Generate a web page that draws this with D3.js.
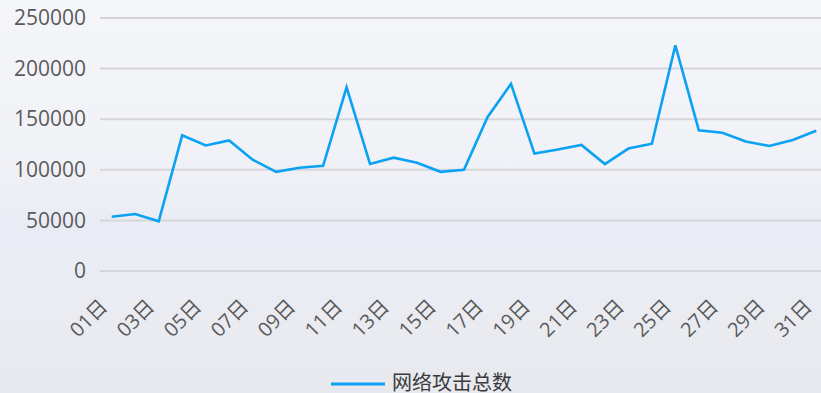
<!DOCTYPE html>
<html>
<head>
<meta charset="utf-8">
<script src="https://cdn.jsdelivr.net/npm/d3@7/dist/d3.min.js"></script>
<style>
  html, body { margin: 0; padding: 0; background: #f1f2f7; }
  svg { display: block; }
</style>
</head>
<body>
<svg id="chart" width="821" height="393"></svg>
<script>
// Daily attack counts for one month
const days = ["01日","02日","03日","04日","05日","06日","07日","08日","09日","10日",
              "11日","12日","13日","14日","15日","16日","17日","18日","19日","20日",
              "21日","22日","23日","24日","25日","26日","27日","28日","29日","30日","31日"];
const attacks = [53600, 56300, 49100, 134000, 124000, 129000, 110000, 98000, 102000, 104000,
                 181500, 105700, 112000, 107000, 98000, 100000, 152000, 185000, 116000, 120000,
                 124500, 105700, 121000, 125800, 223000, 139000, 136600, 128000, 123500, 129400, 138600];
const yTicks = [0, 50000, 100000, 150000, 200000, 250000];
const seriesName = "网络攻击总数";

const W = 821, H = 393;
const margin = { left: 100, right: -7, top: 18, bottom: 122 };
const fontFamily = "'Open Sans', 'Noto Sans CJK SC', sans-serif";

const svg = d3.select("#chart");

// Soft backdrop
const defs = svg.append("defs");
const bg = defs.append("linearGradient").attr("id", "bg").attr("x1", 0).attr("y1", 0).attr("x2", 0).attr("y2", 1);
bg.append("stop").attr("offset", "0%").attr("stop-color", "#f5f6fa");
bg.append("stop").attr("offset", "40%").attr("stop-color", "#f1f2f7");
bg.append("stop").attr("offset", "58%").attr("stop-color", "#e9ecf5");
bg.append("stop").attr("offset", "80%").attr("stop-color", "#eaecf2");
bg.append("stop").attr("offset", "100%").attr("stop-color", "#e7e9ef");
svg.append("rect").attr("width", W).attr("height", H).attr("fill", "url(#bg)");

const x = d3.scaleBand()
  .domain(days)
  .range([margin.left, W - margin.right]);

const y = d3.scaleLinear()
  .domain([0, 250000])
  .range([H - margin.bottom, margin.top]);

// Horizontal grid lines
svg.append("g")
  .selectAll("line")
  .data(yTicks)
  .join("line")
  .attr("x1", margin.left)
  .attr("x2", W - margin.right)
  .attr("y1", d => y(d))
  .attr("y2", d => y(d))
  .attr("stroke", "#d6d6d8")
  .attr("stroke-width", 2);

// Y axis labels
const yAxis = svg.append("g")
  .attr("transform", `translate(${margin.left - 14},0)`)
  .call(d3.axisLeft(y).tickValues(yTicks).tickSize(0).tickPadding(0).tickFormat(d3.format("d")));
yAxis.select(".domain").remove();
yAxis.selectAll("text")
  .attr("fill", "#5a5a5a")
  .attr("font-size", 21)
  .attr("font-family", fontFamily);

// X axis labels, every other day, rotated
const xAxis = svg.append("g")
  .attr("transform", `translate(0,${H - margin.bottom})`)
  .call(d3.axisBottom(x).tickValues(days.filter((d, i) => i % 2 === 0)).tickSize(0).tickPadding(0));
xAxis.select(".domain").remove();
xAxis.selectAll("text")
  .attr("fill", "#5a5a5a")
  .attr("font-size", 20)
  .attr("font-family", fontFamily)
  .attr("text-anchor", "end")
  .attr("dy", "0.35em")
  .attr("transform", "translate(-8,32) rotate(-45)")
  .attr("y", 0)
  .attr("x", 0);

// Series line
const line = d3.line()
  .x((d, i) => x(days[i]) + x.bandwidth() / 2)
  .y(d => y(d));

svg.append("path")
  .datum(attacks)
  .attr("d", line)
  .attr("fill", "none")
  .attr("stroke", "#0ba1f4")
  .attr("stroke-width", 2.6)
  .attr("stroke-linejoin", "miter");

// Legend
const legend = svg.append("g").attr("transform", "translate(331,384)");
legend.append("line")
  .attr("x1", 0).attr("x2", 54).attr("y1", 0).attr("y2", 0)
  .attr("stroke", "#0ba1f4").attr("stroke-width", 3);
legend.append("text")
  .attr("x", 61).attr("y", -1).attr("dy", "0.34em")
  .attr("font-size", 20)
  .attr("font-family", fontFamily)
  .attr("fill", "#3a3a3a")
  .text(seriesName);
</script>
</body>
</html>
